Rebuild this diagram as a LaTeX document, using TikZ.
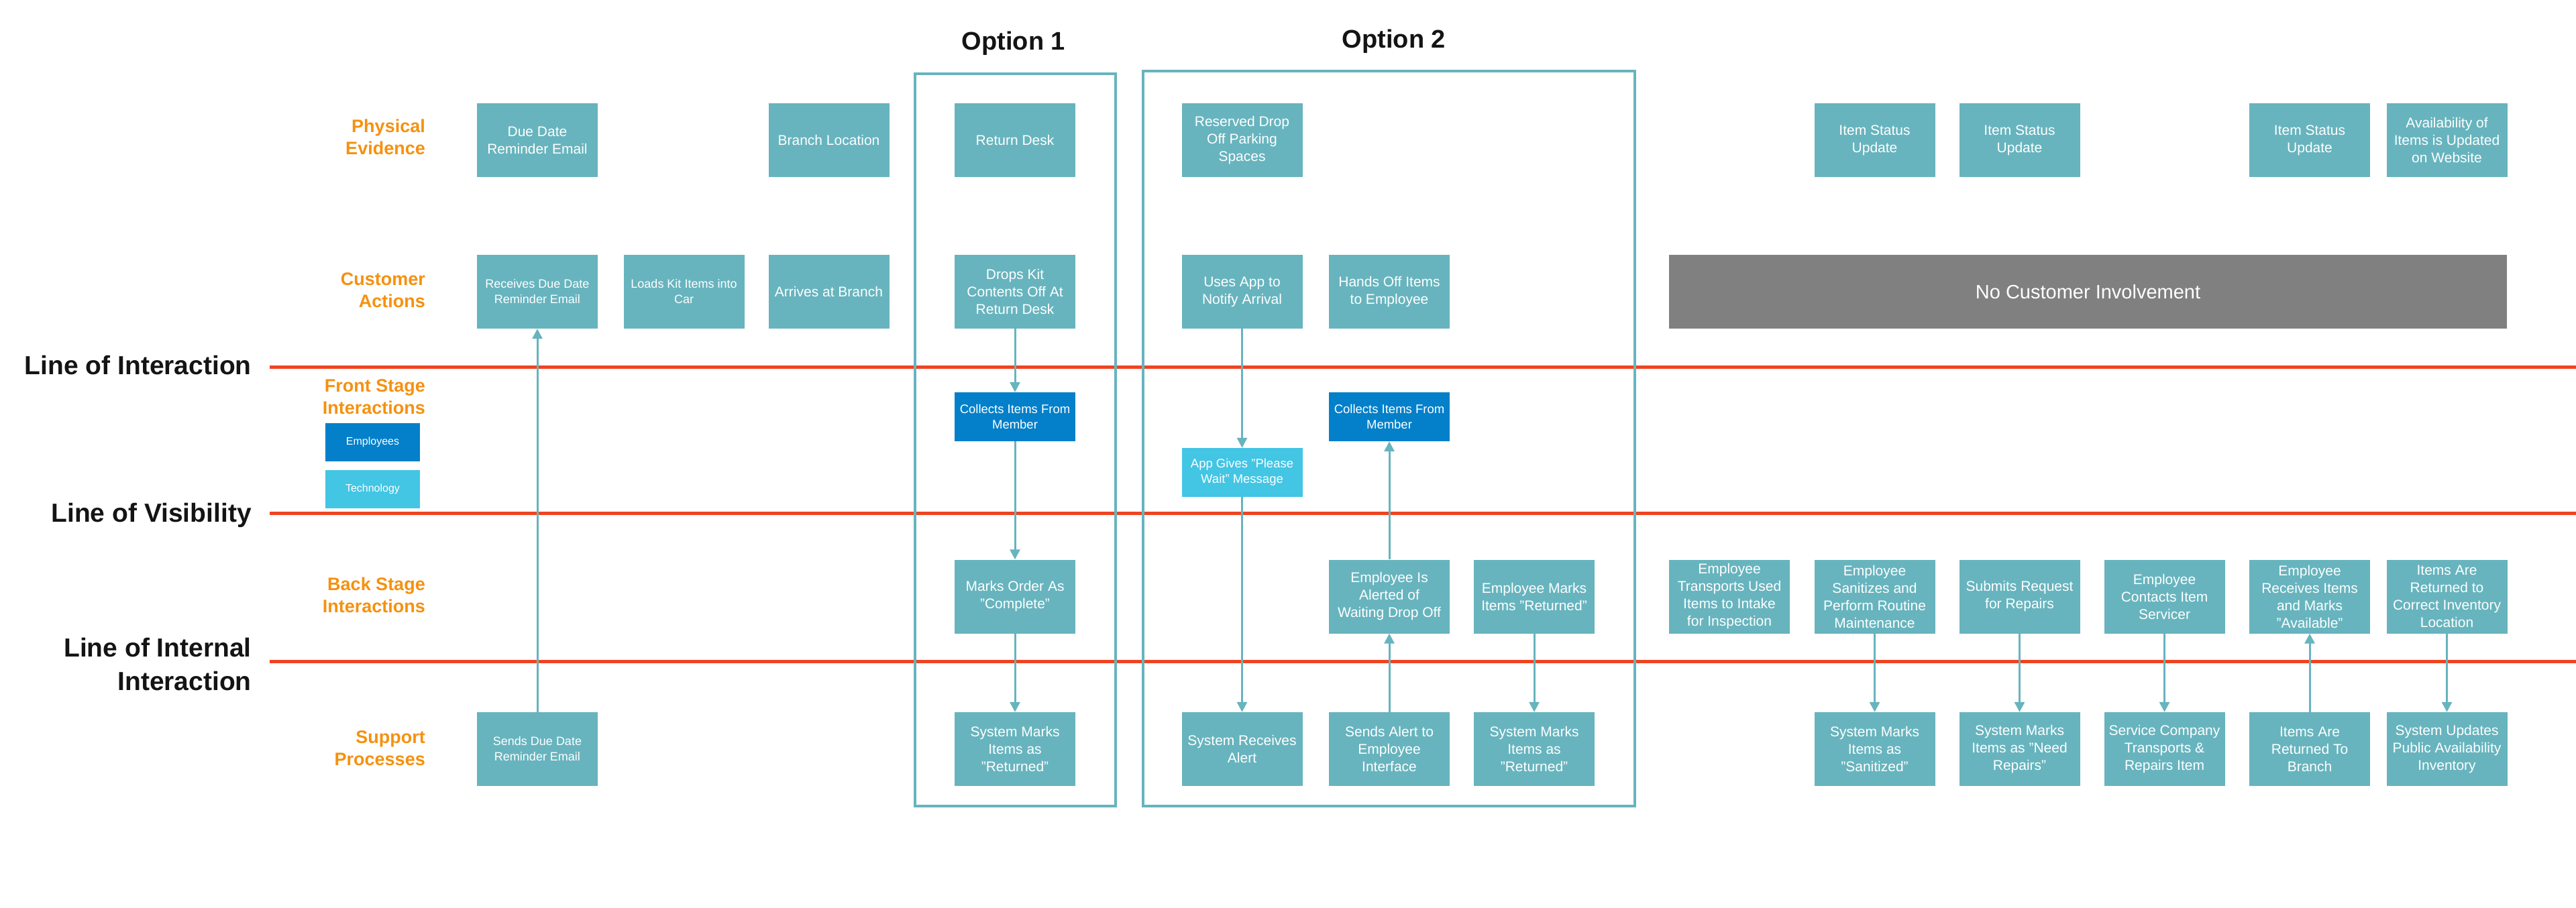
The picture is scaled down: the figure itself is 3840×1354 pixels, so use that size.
\documentclass[tikz,border=0pt]{standalone}
\usepackage{fontspec}
\setmainfont{Liberation Sans}
\usetikzlibrary{arrows.meta}
\definecolor{tealc}{HTML}{67B4BE}
\definecolor{empc}{HTML}{0380C9}
\definecolor{techc}{HTML}{43C5E4}
\definecolor{orangec}{HTML}{F5910F}
\definecolor{redc}{HTML}{EF4421}
\definecolor{greyc}{HTML}{808080}
\definecolor{inkc}{HTML}{141414}
\begin{document}
\begin{tikzpicture}[x=1pt,y=-1pt,
  box/.style={fill=tealc, text=white, minimum width=180pt, minimum height=110pt, inner sep=0pt, align=center, font=\fontsize{21}{26}\selectfont},
  smallbox/.style={box, font=\fontsize{18}{23}\selectfont},
  fbox/.style={box, minimum height=73pt, font=\fontsize{18.5}{23}\selectfont},
  legend/.style={text=white, minimum width=141pt, minimum height=57pt, inner sep=0pt, font=\fontsize{16}{19}\selectfont},
  rowlbl/.style={text=orangec, font=\bfseries\fontsize{27}{33}\selectfont, align=right, anchor=east, inner sep=0pt},
  linelbl/.style={text=inkc, font=\bfseries\fontsize{39}{50}\selectfont, align=right, anchor=east, inner sep=0pt},
  opttitle/.style={text=inkc, font=\bfseries\fontsize{38}{46}\selectfont, inner sep=0pt},
  arr/.style={draw=tealc, line width=3pt, -{Triangle[width=15pt,length=15pt]}},
  sepline/.style={draw=redc, line width=5pt},
  optframe/.style={draw=tealc, line width=3.5pt, inner sep=0pt}
]
\useasboundingbox[fill=white] (0,0) rectangle (3840,1354);

% separator lines
\coordinate (li0) at (402,547.5); \coordinate (li1) at (3840,547.5);
\coordinate (lv0) at (402,765);   \coordinate (lv1) at (3840,765);
\coordinate (ln0) at (402,986);   \coordinate (ln1) at (3840,986);
\draw[sepline] (li0) -- (li1);
\draw[sepline] (lv0) -- (lv1);
\draw[sepline] (ln0) -- (ln1);

% line labels
\node[linelbl] (tInter) at (375,545) {Line of Interaction};
\node[linelbl] (tVis) at (375,768) {Line of Visibility};
\node[linelbl] (tInt) at (375,991) {Line of Internal\\Interaction};

% row labels
\node[rowlbl] (rPE) at (634,204) {Physical\\Evidence};
\node[rowlbl] (rCA) at (634,433) {Customer\\Actions};
\node[rowlbl] (rFS) at (634,592) {Front Stage\\Interactions};
\node[rowlbl] (rBS) at (634,887) {Back Stage\\Interactions};
\node[rowlbl] (rSP) at (634,1116) {Support\\Processes};

% legend
\node[legend, fill=empc] (legEmp) at (555.5,659.5) {Employees};
\node[legend, fill=techc] (legTech) at (555.5,729) {Technology};

% option frames
\node[optframe, minimum width=299pt, minimum height=1092pt] (opt1) at (1513.5,656) {};
\node[optframe, minimum width=733pt, minimum height=1096pt] (opt2) at (2070.5,654) {};
\node[opttitle] (opt1t) at (1511,65) {Option 1};
\node[opttitle] (opt2t) at (2078,62) {Option 2};

% physical evidence
\node[box] (pe1) at (801,209) {Due Date\\Reminder Email};
\node[box] (pe2) at (1235.5,209) {Branch Location};
\node[box] (pe3) at (1513,209) {Return Desk};
\node[box] (pe4) at (1851.5,209) {Reserved Drop\\Off Parking\\Spaces};
\node[box] (pe5) at (2794.5,209) {Item Status\\Update};
\node[box] (pe6) at (3010.5,209) {Item Status\\Update};
\node[box] (pe7) at (3443,209) {Item Status\\Update};
\node[box] (pe8) at (3647.5,209) {Availability of\\Items is Updated\\on Website};

% customer actions
\node[smallbox] (ca1) at (801,435) {Receives Due Date\\Reminder Email};
\node[smallbox] (ca2) at (1019.5,435) {Loads Kit Items into\\Car};
\node[box] (ca3) at (1235.5,435) {Arrives at Branch};
\node[box] (ca4) at (1513,435) {Drops Kit\\Contents Off At\\Return Desk};
\node[box] (ca5) at (1851.5,435) {Uses App to\\Notify Arrival};
\node[box] (ca6) at (2071,435) {Hands Off Items\\to Employee};
\node[box, fill=greyc, minimum width=1249pt, font=\fontsize{29}{34}\selectfont] (ca7) at (3112.5,435) {No Customer Involvement};

% front stage
\node[fbox, fill=empc] (fs1) at (1513,621.5) {Collects Items From\\Member};
\node[fbox, fill=techc] (fs2) at (1851.5,704.5) {App Gives "Please\\Wait" Message};
\node[fbox, fill=empc] (fs3) at (2071,621.5) {Collects Items From\\Member};

% back stage
\node[box] (bs1) at (1513,889.5) {Marks Order As\\"Complete"};
\node[box] (bs2) at (2071,889.5) {Employee Is\\Alerted of\\Waiting Drop Off};
\node[box] (bs3) at (2287,889.5) {Employee Marks\\Items "Returned"};
\node[box] (bs4) at (2578,889.5) {Employee\\Transports Used\\Items to Intake\\for Inspection};
\node[box] (bs5) at (2794.5,889.5) {Employee\\Sanitizes and\\Perform Routine\\Maintenance};
\node[box] (bs6) at (3010.5,889.5) {Submits Request\\for Repairs};
\node[box] (bs7) at (3226.5,889.5) {Employee\\Contacts Item\\Servicer};
\node[box] (bs8) at (3443,889.5) {Employee\\Receives Items\\and Marks\\"Available"};
\node[box] (bs9) at (3647.5,889.5) {Items Are\\Returned to\\Correct Inventory\\Location};

% support processes
\node[smallbox] (sp1) at (801,1117) {Sends Due Date\\Reminder Email};
\node[box] (sp2) at (1513,1117) {System Marks\\Items as\\"Returned"};
\node[box] (sp3) at (1851.5,1117) {System Receives\\Alert};
\node[box] (sp4) at (2071,1117) {Sends Alert to\\Employee\\Interface};
\node[box] (sp5) at (2287,1117) {System Marks\\Items as\\"Returned"};
\node[box] (sp6) at (2794.5,1117) {System Marks\\Items as\\"Sanitized"};
\node[box] (sp7) at (3010.5,1117) {System Marks\\Items as "Need\\Repairs"};
\node[box] (sp8) at (3226.5,1117) {Service Company\\Transports \&\\Repairs Item};
\node[box] (sp9) at (3443,1117) {Items Are\\Returned To\\Branch};
\node[box] (sp10) at (3647.5,1117) {System Updates\\Public Availability\\Inventory};

% connectors
\draw[arr] (sp1) -- (ca1);
\draw[arr] (ca4) -- (fs1);
\draw[arr] (fs1) -- (bs1);
\draw[arr] (bs1) -- (sp2);
\draw[arr] (ca5) -- (fs2);
\draw[arr] (fs2) -- (sp3);
\draw[arr] (sp4) -- (bs2);
\draw[arr] (bs2) -- (fs3);
\draw[arr] (bs3) -- (sp5);
\draw[arr] (bs5) -- (sp6);
\draw[arr] (bs6) -- (sp7);
\draw[arr] (bs7) -- (sp8);
\draw[arr] (sp9) -- (bs8);
\draw[arr] (bs9) -- (sp10);
\end{tikzpicture}
\end{document}
